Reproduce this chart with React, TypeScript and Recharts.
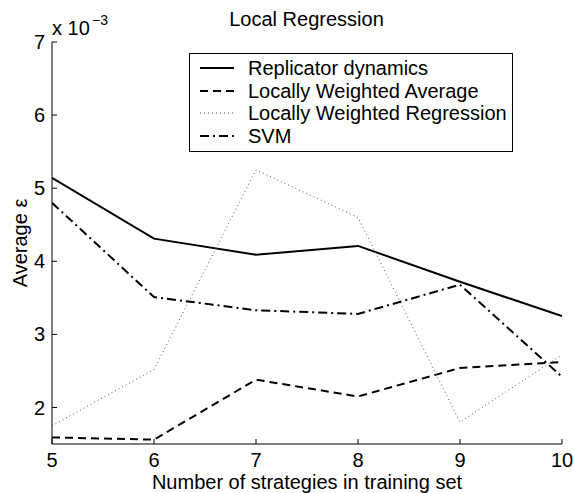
import React from 'react';
import { LineChart, Line, XAxis, YAxis, Legend } from 'recharts';

const xValues = [5, 6, 7, 8, 9, 10];
const replicator = [5.14, 4.31, 4.09, 4.21, 3.72, 3.25];
const lwa = [1.59, 1.56, 2.38, 2.15, 2.54, 2.62];
const lwr = [1.75, 2.52, 5.25, 4.6, 1.8, 2.72];
const svm = [4.8, 3.51, 3.33, 3.28, 3.68, 2.42];
const xTicks = [5, 6, 7, 8, 9, 10];
const yTicks = [2, 3, 4, 5, 6, 7];

const data = xValues.map((x, i) => ({
  x,
  replicator: replicator[i],
  lwa: lwa[i],
  lwr: lwr[i],
  svm: svm[i],
}));

const series = [
  { key: 'replicator', name: 'Replicator dynamics', stroke: '#000', width: 2, dash: undefined as string | undefined },
  { key: 'lwa', name: 'Locally Weighted Average', stroke: '#000', width: 2, dash: '8 5' },
  { key: 'lwr', name: 'Locally Weighted Regression', stroke: '#555', width: 1, dash: '1 3' },
  { key: 'svm', name: 'SVM', stroke: '#000', width: 2, dash: '9 4 2 4' },
];

const FONT = '"Liberation Sans", Arial, Helvetica, sans-serif';
const FS = 20;

const renderLegend = () => (
  <div
    style={{
      border: '1px solid #000',
      background: '#fff',
      width: 324,
      height: 99,
      padding: '3px 0 0 0',
      boxSizing: 'border-box',
      fontFamily: FONT,
      fontSize: FS,
      color: '#000',
    }}
  >
    {series.map((s) => (
      <div key={s.key} style={{ display: 'flex', alignItems: 'center', height: 22.5 }}>
        <svg width={58} height={10} style={{ flex: 'none' }}>
          <line
            x1={10}
            y1={5}
            x2={44}
            y2={5}
            stroke={s.stroke}
            strokeWidth={s.width}
            strokeDasharray={s.dash}
          />
        </svg>
        <span style={{ whiteSpace: 'nowrap', lineHeight: '22px' }}>{s.name}</span>
      </div>
    ))}
  </div>
);

export default function App() {
  return (
    <div style={{ position: 'absolute', left: 0, top: 0, width: 573, height: 493, background: '#fff', fontFamily: FONT }}>
      <LineChart
        width={573}
        height={493}
        data={data}
        margin={{ top: 42, right: 11, left: 0, bottom: 0 }}
        style={{ fontFamily: FONT }}
      >
        <XAxis
          dataKey="x"
          type="number"
          domain={[5, 10]}
          ticks={xTicks}
          allowDataOverflow
          height={49}
          tickSize={-5}
          tickMargin={14}
          stroke="#000"
          tick={{ fill: '#000', fontSize: FS }}
          label={{ value: 'Number of strategies in training set', position: 'insideBottom', offset: 4, fill: '#000', fontSize: FS }}
        />
        <XAxis
          xAxisId="top"
          orientation="top"
          dataKey="x"
          type="number"
          domain={[5, 10]}
          ticks={xTicks}
          allowDataOverflow
          height={0}
          tickSize={-5}
          tickFormatter={() => ''}
          stroke="#000"
        />
        <YAxis
          type="number"
          domain={[1.5, 7]}
          ticks={yTicks}
          allowDataOverflow
          width={52}
          tickSize={-5}
          tickMargin={12}
          stroke="#000"
          tick={{ fill: '#000', fontSize: FS }}
          label={{ value: 'Average ε', angle: -90, position: 'center', dx: -6, fill: '#000', fontSize: FS }}
        />
        <YAxis
          yAxisId="right"
          orientation="right"
          type="number"
          domain={[1.5, 7]}
          ticks={yTicks}
          allowDataOverflow
          width={0}
          tickSize={-5}
          tickFormatter={() => ''}
          stroke="#000"
        />
        <Legend
          layout="vertical"
          align="center"
          verticalAlign="middle"
          content={renderLegend}
          wrapperStyle={{ position: 'absolute', left: 189, top: 53, width: 324, height: 99 }}
        />
        {series.map((s) => (
          <Line
            key={s.key}
            dataKey={s.key}
            name={s.name}
            stroke={s.stroke}
            strokeWidth={s.width}
            strokeDasharray={s.dash}
            dot={false}
            activeDot={false}
            isAnimationActive={false}
          />
        ))}
        <Line
          xAxisId="top"
          yAxisId="right"
          dataKey="replicator"
          stroke="none"
          dot={false}
          activeDot={false}
          legendType="none"
          isAnimationActive={false}
        />
      </LineChart>
      <svg
        width={573}
        height={42}
        style={{ position: 'absolute', left: 0, top: 0, pointerEvents: 'none' }}
        fontFamily={FONT}
      >
        <text x={306.5} y={26} textAnchor="middle" fontSize={FS} fill="#000">Local Regression</text>
        <text x={52} y={35} fontSize={FS} fill="#000">x 10</text>
        <text x={92} y={25} fontSize={14} fill="#000">−3</text>
      </svg>
    </div>
  );
}
